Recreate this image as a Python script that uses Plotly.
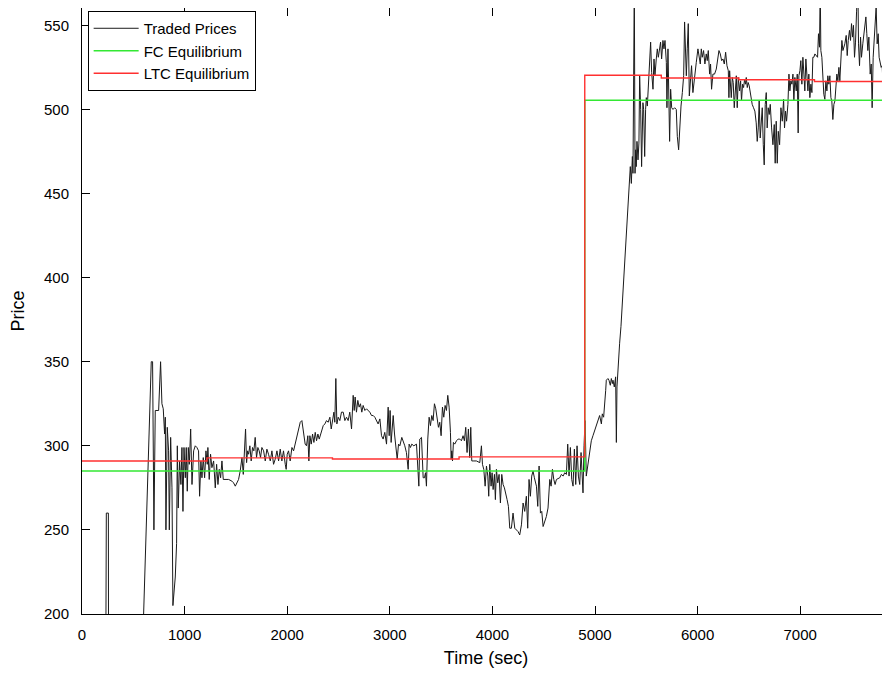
import plotly.graph_objects as go

# ---- Traded prices (time in sec, price) ----
trade_time = [
    228, 234, 237, 257, 260, 551, 675, 688, 701, 714, 747, 766, 779, 792, 805, 812, 818, 831, 844, 851,
    864, 877, 886, 909, 922, 929, 938, 951, 964, 974, 984, 994, 1007, 1016, 1026, 1036, 1046, 1059, 1072, 1088,
    1104, 1120, 1136, 1146, 1159, 1169, 1182, 1195, 1208, 1221, 1227, 1240, 1253, 1266, 1283, 1299, 1312, 1325, 1338, 1351,
    1364, 1377, 1396, 1429, 1461, 1477, 1494, 1510, 1526, 1542, 1559, 1572, 1585, 1594, 1604, 1614, 1624, 1636, 1649, 1662,
    1675, 1688, 1701, 1714, 1727, 1740, 1753, 1770, 1786, 1802, 1818, 1835, 1851, 1867, 1883, 1900, 1916, 1932, 1948, 1964,
    1981, 1990, 2000, 2013, 2029, 2046, 2062, 2078, 2094, 2111, 2127, 2143,
    2162, 2175, 2188, 2201, 2211, 2221, 2234, 2247, 2260, 2273, 2286, 2299, 2312, 2325, 2338, 2351, 2367, 2383, 2399, 2416,
    2429, 2442, 2455, 2464, 2474, 2484, 2497, 2513, 2529, 2546, 2562, 2578, 2594, 2610, 2627, 2643, 2653, 2662, 2675, 2688,
    2701, 2714, 2727, 2740, 2757, 2773, 2789, 2805, 2822, 2838, 2854, 2870, 2886, 2903, 2919, 2935, 2951, 2968, 2984, 2994,
    3003, 3013, 3023, 3033, 3046, 3059, 3072, 3085, 3098, 3117, 3130, 3146, 3162, 3179, 3188, 3201, 3214, 3234, 3260, 3283,
    3292, 3309, 3325, 3338, 3348, 3357, 3370, 3383, 3396, 3409, 3422, 3435, 3448, 3461, 3474, 3487, 3500, 3513, 3526, 3539,
    3552, 3565, 3578, 3591, 3598, 3604, 3611, 3620, 3633, 3650, 3666, 3682, 3698, 3714, 3727, 3740, 3753, 3766, 3779, 3789,
    3799, 3812, 3844, 3877, 3893, 3903, 3916, 3929, 3942, 3955, 3964, 3974, 3987, 3997, 4007, 4020, 4029, 4039, 4052, 4065,
    4078, 4091, 4104, 4117, 4130, 4143, 4156, 4169, 4185, 4201, 4218, 4234, 4250, 4266, 4283, 4299, 4315, 4331, 4344, 4357,
    4370, 4383, 4396, 4409, 4429, 4442, 4455, 4468, 4481, 4494, 4510, 4526, 4542, 4559, 4572, 4585, 4598, 4611, 4624, 4656,
    4672, 4689, 4705, 4721, 4734, 4747, 4760, 4773, 4786, 4799, 4812, 4825, 4838, 4851, 4864, 4877, 4883, 4893, 4903,
    4915, 4932, 4948, 4964, 4980, 4997, 5013, 5029, 5045, 5062, 5071, 5084, 5094, 5104, 5110, 5126, 5136, 5149, 5159, 5169,
    5175, 5188, 5201, 5208, 5214, 5224, 5234, 5240, 5253, 5263, 5273, 5282, 5289, 5299, 5308, 5318, 5328, 5338, 5344, 5354,
    5364, 5370, 5377, 5383, 5390, 5396, 5402, 5409, 5419, 5428, 5435, 5445, 5454, 5461, 5467, 5474, 5484, 5493, 5500, 5510,
    5519, 5532, 5542, 5552, 5565, 5575, 5584, 5597, 5607, 5617, 5630, 5639, 5649, 5662, 5672, 5682, 5695, 5701, 5711, 5721,
    5727, 5737, 5747, 5760, 5776, 5792, 5802, 5815, 5825, 5838, 5851, 5864, 5873, 5883, 5890, 5899, 5909, 5919, 5929, 5941,
    5954, 5971, 5987, 6003,
    6013, 6026, 6036, 6045, 6058, 6071, 6084, 6094, 6104, 6117, 6126, 6136, 6149, 6165, 6182, 6198, 6208, 6221, 6234, 6247,
    6260, 6273, 6286, 6299, 6305, 6312, 6318, 6328, 6338, 6347, 6357, 6367, 6377, 6386, 6396, 6409, 6419, 6428, 6438, 6448,
    6458, 6467, 6474, 6484, 6493, 6503, 6513, 6523, 6532, 6545, 6558, 6571, 6581, 6591, 6600, 6610, 6620, 6630, 6640, 6649,
    6659, 6669, 6678, 6688, 6698, 6708, 6721, 6734, 6747, 6756, 6766, 6776, 6786, 6799, 6812, 6825, 6838, 6847, 6857, 6867,
    6880, 6890, 6899, 6909, 6919, 6929, 6938, 6948, 6961, 6971, 6980, 6987, 6997, 7006, 7016, 7026, 7036, 7045, 7055, 7065,
    7075, 7084, 7094, 7104, 7114, 7123, 7133, 7143, 7156, 7169, 7178, 7188, 7195, 7201, 7211, 7221, 7230, 7240, 7250, 7260,
    7269, 7279, 7289, 7299, 7308, 7318, 7328, 7338, 7347, 7357, 7367, 7377, 7386, 7396, 7406, 7416, 7425, 7435, 7448, 7458,
    7468, 7480, 7490, 7500, 7510, 7519, 7529, 7539, 7549, 7555, 7562, 7568, 7578, 7588, 7597, 7610, 7620, 7630, 7640, 7649,
    7659, 7669, 7682, 7692, 7701, 7711, 7721, 7731, 7740, 7750, 7760, 7769, 7779, 7789, 7799, 7809, 7818, 7822, 7825,
]
trade_price = [
    100, 230, 260, 260, 100, 100, 350, 350, 250, 321, 321, 350, 325, 322, 307, 317, 250, 311, 297, 250,
    305, 275, 205, 222, 242, 300, 263, 291, 277, 299, 261, 299, 281, 299, 273, 299, 289, 310, 277, 297,
    300, 299, 297, 270, 291, 281, 293, 281, 297, 289, 299, 280, 295, 287, 291, 275, 289, 277, 286, 281,
    291, 280, 280, 280, 279, 278, 276, 278, 280, 285, 293, 283, 297, 310, 290, 297, 295, 300, 291, 299,
    297, 305, 293, 299, 297, 293, 299, 297, 291, 298, 295, 291, 297, 289, 292, 297, 291, 298, 291, 297,
    289, 286, 295, 297, 291, 299, 297, 301, 306, 311, 314, 315,
    308, 301, 300, 306, 291, 306, 301, 307, 302, 308, 303, 307, 304, 307, 310, 312, 313, 315, 314, 317,
    310, 316, 320, 314, 340, 313, 317, 315, 320, 320, 315, 317, 315, 320, 310, 330, 321, 329, 320, 327,
    323, 325, 320, 324, 321, 322, 321, 320, 318, 318, 317, 315, 313, 316, 306, 304, 308, 301, 323, 306,
    321, 302, 308, 318, 307, 301, 292, 301, 300, 305, 303, 300, 296, 286, 301, 299, 301, 300, 301, 276,
    304, 305, 281, 281, 284, 276, 304, 317, 312, 318, 315, 325, 322, 317, 311, 314, 306, 323, 317, 324,
    321, 330, 323, 308, 292, 297, 291, 302, 301, 303, 304, 304, 303, 306, 303, 311, 296, 310, 293, 311,
    291, 291, 291, 290, 300, 289, 286, 276, 288, 282, 270, 289, 276, 284, 274, 283, 268, 286, 278, 283,
    266, 283, 277, 275, 272, 268, 264, 251, 251, 260, 251, 250, 249, 247, 253, 266, 261, 270, 251, 280,
    270, 282, 285, 281, 276, 264, 288, 260, 261, 252, 255, 258, 263, 280, 276, 286, 280, 277, 280, 281,
    283, 282, 284, 283, 301, 282, 299, 280, 276, 298, 277, 300, 282, 277, 296, 280, 272, 300, 315,
    282, 290, 298, 303, 306, 309, 312, 315, 318, 313, 319, 317, 323, 333, 339, 340, 339, 336, 340, 337,
    339, 335, 341, 302, 335, 347, 353, 361, 371, 381, 391, 401, 409, 421, 433, 442, 450, 458, 466, 456,
    472, 462, 540, 575, 462, 476, 466, 481, 470, 480, 520, 500, 466, 484, 504, 500, 472, 500, 507, 502,
    512, 524, 540, 522, 512, 530, 520, 530, 536, 531, 538, 540, 530, 541, 536, 541, 528, 501, 536, 502,
    481, 512, 501, 500, 501, 500, 484, 476, 491, 502, 510, 520, 552, 524, 520, 536, 551, 508, 520, 526,
    510, 521, 528, 536,
    533, 527, 536, 531, 535, 527, 533, 529, 535, 521, 527, 512, 521, 521, 524, 530, 535, 533, 529, 530,
    527, 534, 526, 523, 507, 523, 513, 507, 519, 516, 501, 511, 520, 501, 519, 511, 517, 505, 515, 513,
    518, 515, 519, 513, 516, 514, 509, 505, 503, 501, 499, 492, 481, 489, 505, 483, 493, 501, 479, 467,
    503, 510, 489, 501, 497, 503, 489, 479, 491, 468, 493, 468, 487, 479, 501, 493, 506, 489, 499, 493,
    503, 521, 511, 517, 515, 521, 505, 519, 511, 521, 486, 520, 523, 529, 515, 531, 521, 511, 530, 523,
    511, 521, 507, 515, 510, 531, 531, 533, 532, 531, 545, 537, 575, 535, 531, 517, 509, 506, 517, 511,
    520, 515, 520, 507, 505, 494, 503, 505, 512, 521, 517, 525, 517, 529, 541, 535, 537, 539, 544, 532,
    541, 547, 541, 551, 543, 550, 531, 540, 558, 575, 575, 539, 526, 543, 531, 539, 545, 551, 555, 545,
    535, 543, 521, 527, 501, 531, 543, 556, 561, 539, 545, 531, 528, 525, 526, 511, 523, 430, 100,
]

# ---- Equilibrium step series ----
fc_time = [0, 4900, 7875]
fc_price = [285, 505.5, 505.5]
ltc_time = [0, 1218, 2441, 3675, 4900, 5646, 6402, 7139, 7875]
ltc_price = [291, 292.8, 292.2, 293.4, 520.3, 518.7, 517.6, 516.6, 516.6]

x_ticks = [0, 1000, 2000, 3000, 4000, 5000, 6000, 7000]
y_ticks = [200, 250, 300, 350, 400, 450, 500, 550]

FONT = "Liberation Sans, Arial, sans-serif"

fig = go.Figure()
fig.add_trace(go.Scatter(x=trade_time, y=trade_price, mode="lines", name="Traded Prices",
                         line=dict(color="#1a1a1a", width=1)))
fig.add_trace(go.Scatter(x=fc_time, y=fc_price, mode="lines", name="FC Equilibrium",
                         line=dict(color="#33e833", width=1.5, shape="hv")))
fig.add_trace(go.Scatter(x=ltc_time, y=ltc_price, mode="lines", name="LTC Equilibrium",
                         line=dict(color="#ff3030", width=1.4, shape="hv")))

axis_common = dict(showline=True, linecolor="black", linewidth=1, mirror="ticks",
                   ticks="inside", ticklen=8, tickcolor="black", tickwidth=1,
                   showgrid=False, zeroline=False, automargin=False,
                   tickfont=dict(family=FONT, size=15, color="black"))

# The page body adds an 8px offset, so the figure is sized to fill the rest of the window.
fig.update_layout(
    width=882, height=665,
    margin=dict(l=74, r=0, t=0, b=59, autoexpand=False),
    paper_bgcolor="white", plot_bgcolor="white",
    font=dict(family=FONT, color="black"),
    showlegend=True,
    legend=dict(x=0.007, y=0.995, xanchor="left", yanchor="top",
                bgcolor="white", bordercolor="black", borderwidth=1,
                font=dict(family=FONT, size=15, color="black"), tracegroupgap=0,
                itemwidth=45),
    xaxis=dict(range=[0, 7875], tickvals=x_ticks, ticklabelstandoff=7,
               title=dict(text="Time (sec)", font=dict(family=FONT, size=18), standoff=9),
               **axis_common),
    yaxis=dict(range=[200, 560.3], tickvals=y_ticks, ticklabelstandoff=9,
               title=dict(text="Price", font=dict(family=FONT, size=18), standoff=17),
               **axis_common),
)

fig.write_html("out.html")
